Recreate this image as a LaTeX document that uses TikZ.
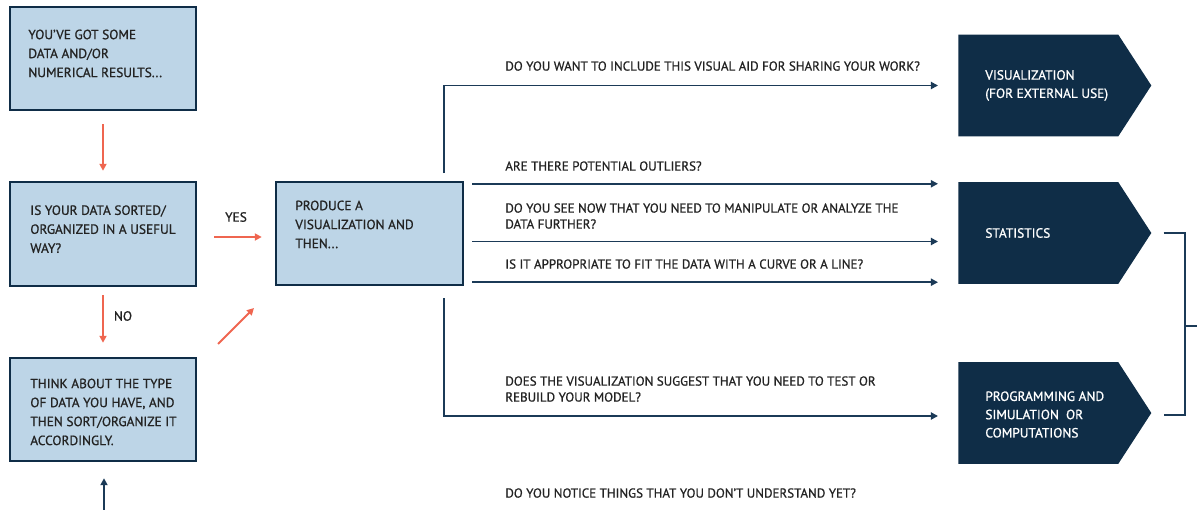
\documentclass[tikz,border=0pt]{standalone}
\usepackage{fontspec}
\setmainfont{PT Sans}
\newfontfamily\medfont{PT Sans}[FakeBold=0.9]
\usetikzlibrary{arrows.meta,shapes.symbols}
\definecolor{lblue}{HTML}{BDD5E7}
\definecolor{navy}{HTML}{0F2D47}
\definecolor{lnavy}{HTML}{1B3A57}
\definecolor{redar}{HTML}{EF6650}
\definecolor{txt}{HTML}{232323}
\begin{document}
\begin{tikzpicture}[x=0.02cm,y=-0.02cm,
  box/.style={draw=navy, line width=1.4pt, fill=lblue, inner sep=0pt},
  btext/.style={anchor=north west, inner sep=0pt, align=left, text=txt,
    font=\medfont\fontsize{7.6pt}{10.8pt}\selectfont},
  qtext/.style={anchor=north west, inner sep=0pt, align=left, text=txt,
    font=\medfont\fontsize{7.4pt}{9.1pt}\selectfont},
  stext/.style={anchor=west, inner sep=0pt, align=left, text=white,
    font=\medfont\fontsize{7.6pt}{10.4pt}\selectfont},
  sig/.style={signal, signal to=east, signal pointer angle=114, fill=navy,
    minimum width=3.86cm, minimum height=2.04cm, inner sep=0pt, anchor=west},
  ra/.style={draw=redar, line width=1.1pt, -{Triangle[length=4pt,width=4pt]}},
  na/.style={draw=lnavy, line width=1.1pt, -{Triangle[length=4pt,width=4pt]}},
  nl/.style={draw=lnavy, line width=1.1pt}
]
\useasboundingbox (0,0) rectangle (1197,510);

% boxes
\node[box, minimum width=3.72cm, minimum height=2.06cm] (b1) at (103,58.5) {};
\node[box, minimum width=3.72cm, minimum height=2.08cm] (b2) at (103,234) {};
\node[box, minimum width=3.72cm, minimum height=2.06cm] (b3) at (103,409.5) {};
\node[box, minimum width=3.74cm, minimum height=2.06cm] (b4) at (369.5,233.5) {};

\node[btext] (t1) at (28,29.3) {YOU’VE GOT SOME\\DATA AND/OR\\NUMERICAL RESULTS...};
\node[btext] (t2) at (30,205) {IS YOUR DATA SORTED/\\ORGANIZED IN A USEFUL\\WAY?};
\node[btext] (t3) at (30,378.3) {THINK ABOUT THE TYPE\\OF DATA YOU HAVE, AND\\THEN SORT/ORGANIZE IT\\ACCORDINGLY.};
\node[btext] (t4) at (295,200.3) {PRODUCE A\\VISUALIZATION AND\\THEN...};

% outcome shapes
\node[sig] (vis) at (958,85.5) {};
\node[sig] (st) at (958,233) {};
\node[sig] (pr) at (958,413) {};
\node[stext] (visT) at (985,85.5) {VISUALIZATION\\(FOR EXTERNAL USE)};
\node[stext] (stT) at (985,233) {STATISTICS};
\node[stext] (prT) at (985,414.5) {PROGRAMMING AND\\SIMULATION\ \ OR\\COMPUTATIONS};

% red arrows
\draw[ra, shorten <=0.26cm, shorten >=0.2cm] (b1) -- (b2);
\draw[ra, shorten <=0.34cm, shorten >=0.26cm] ([yshift=-0.06cm]b2.east) -- ([yshift=-0.06cm]b2.east -| b4.west);
\node[btext, anchor=center] (yes) at (236,217) {YES};
\draw[ra, shorten <=0.16cm, shorten >=0.28cm] (b2) -- (b3);
\node[btext, anchor=center] (no) at (123,316) {NO};
\coordinate (d1) at (218,344);
\coordinate (d2) at (254,308);
\draw[ra] (d1) -- (d2);
\coordinate (bin) at (104,510);
\draw[na, shorten >=0.32cm] (bin) -- (bin |- b3.south);

% navy connectors
\coordinate (v1) at (444,173);
\draw[na, shorten >=0.4cm] (v1) |- (vis.west);
\draw[na, shorten <=0.16cm, shorten >=0.4cm] ([yshift=-0.06cm]b4.north east) -- ([yshift=-0.06cm]b4.north east -| st.west);
\draw[na, shorten <=0.16cm, shorten >=0.4cm] ([yshift=-0.16cm]b4.east) -- ([yshift=-0.16cm]b4.east -| st.west);
\draw[na, shorten <=0.16cm, shorten >=0.4cm] ([yshift=0.08cm]b4.south east) -- ([yshift=0.08cm]b4.south east -| st.west);
\coordinate (v2) at (444,298);
\draw[na, shorten >=0.4cm] (v2) |- ([yshift=-0.06cm]pr.west);

% question labels
\node[qtext] (q1) at (505,61) {DO YOU WANT TO INCLUDE THIS VISUAL AID FOR SHARING YOUR WORK?};
\node[qtext] (q2) at (505,161) {ARE THERE POTENTIAL OUTLIERS?};
\node[qtext] (q3) at (505,203) {DO YOU SEE NOW THAT YOU NEED TO MANIPULATE OR ANALYZE THE\\DATA FURTHER?};
\node[qtext] (q4) at (505,259) {IS IT APPROPRIATE TO FIT THE DATA WITH A CURVE OR A LINE?};
\node[qtext] (q5) at (505,376) {DOES THE VISUALIZATION SUGGEST THAT YOU NEED TO TEST OR\\REBUILD YOUR MODEL?};
\node[qtext] (q6) at (505,488) {DO YOU NOTICE THINGS THAT YOU DON’T UNDERSTAND YET?};

% bracket
\draw[nl] ([xshift=0.24cm]st.east) -| (1185,415) -- ([xshift=0.24cm]pr.east |- 0,415);
\coordinate (bm) at (1185,326);
\coordinate (out) at (1197,326);
\draw[nl] (bm) -- (out);
\end{tikzpicture}
\end{document}
